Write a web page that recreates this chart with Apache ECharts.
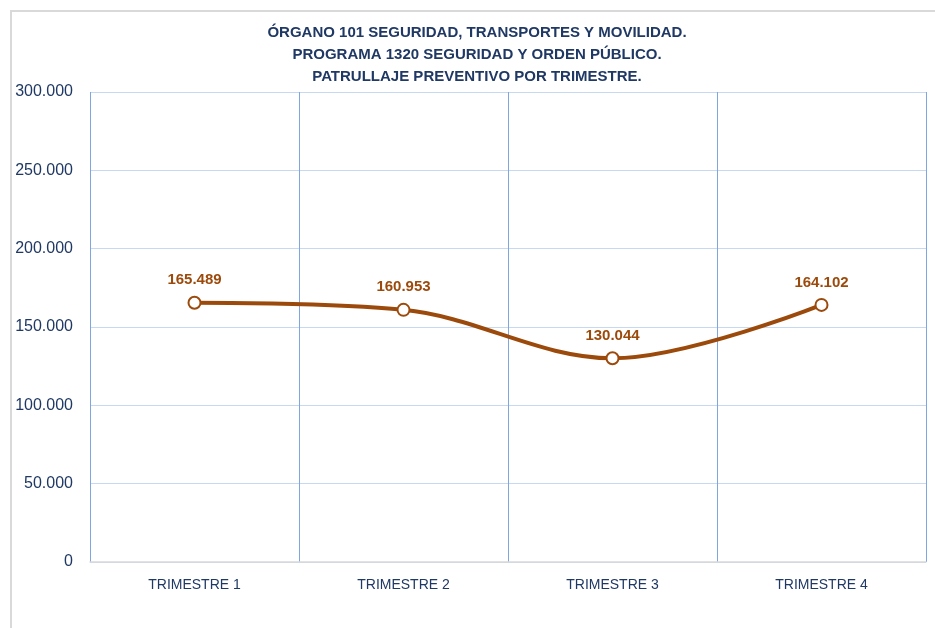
<!DOCTYPE html>
<html>
<head>
<meta charset="utf-8">
<script src="https://cdn.jsdelivr.net/npm/echarts@6/dist/echarts.min.js"></script>
<style>
html, body { margin: 0; padding: 0; background: #fff; }
#chart { width: 935px; height: 628px; }
</style>
</head>
<body>
<div id="chart"></div>
<script>
// datos
var trimestres = ['TRIMESTRE 1', 'TRIMESTRE 2', 'TRIMESTRE 3', 'TRIMESTRE 4'];
var patrullaje = [165489, 160953, 130044, 164102];
var tituloLineas = [
    'ÓRGANO 101 SEGURIDAD, TRANSPORTES Y MOVILIDAD.',
    'PROGRAMA 1320 SEGURIDAD Y ORDEN PÚBLICO.',
    'PATRULLAJE PREVENTIVO POR TRIMESTRE.'
];

var fuente = '"Liberation Sans", Arial, sans-serif';

function miles(v) {
    var s = Math.round(v).toString();
    return s.replace(/\B(?=(\d{3})+(?!\d))/g, '.');
}

var chart = echarts.init(document.getElementById('chart'));
chart.setOption({
    animation: false,
    title: {
        text: tituloLineas.join('\n'),
        left: 472,
        textAlign: 'center',
        top: 17,
        textStyle: {
            fontFamily: fuente,
            fontWeight: 'bold',
            fontSize: 15,
            lineHeight: 22,
            color: '#1f3864'
        }
    },
    graphic: [{
        type: 'rect',
        shape: { x: 11, y: 11, width: 960, height: 660 },
        style: { fill: 'none', stroke: '#d9d9d9', lineWidth: 2 },
        silent: true
    }],
    grid: {
        left: 90,
        right: 9,
        top: 92,
        bottom: 66
    },
    xAxis: {
        type: 'category',
        data: trimestres,
        boundaryGap: true,
        axisLine: { lineStyle: { color: '#d9d9d9', width: 1.5 } },
        axisTick: { show: false },
        axisLabel: {
            margin: 16,
            fontFamily: fuente,
            fontSize: 14,
            color: '#1f3864',
            interval: 0
        },
        splitLine: {
            show: true,
            interval: 0,
            lineStyle: { color: '#7fa6de', width: 1 }
        }
    },
    yAxis: {
        type: 'value',
        min: 0,
        max: 300000,
        interval: 50000,
        axisLine: { show: false },
        axisTick: { show: false },
        axisLabel: {
            margin: 17,
            fontFamily: fuente,
            fontSize: 16,
            color: '#1f3864',
            formatter: miles
        },
        splitLine: { lineStyle: { color: '#c6d9f1', width: 1 } }
    },
    series: [{
        type: 'line',
        data: patrullaje,
        smooth: 0.35,
        symbol: 'circle',
        symbolSize: 12,
        lineStyle: { color: '#9c4a0b', width: 4 },
        itemStyle: { color: '#ffffff', borderColor: '#9c4a0b', borderWidth: 2 },
        label: {
            show: true,
            position: 'top',
            distance: 8,
            formatter: function (p) { return miles(p.value); },
            fontFamily: fuente,
            fontWeight: 'bold',
            fontSize: 15,
            color: '#9c4a0b'
        },
        z: 5
    }]
});
</script>
</body>
</html>
